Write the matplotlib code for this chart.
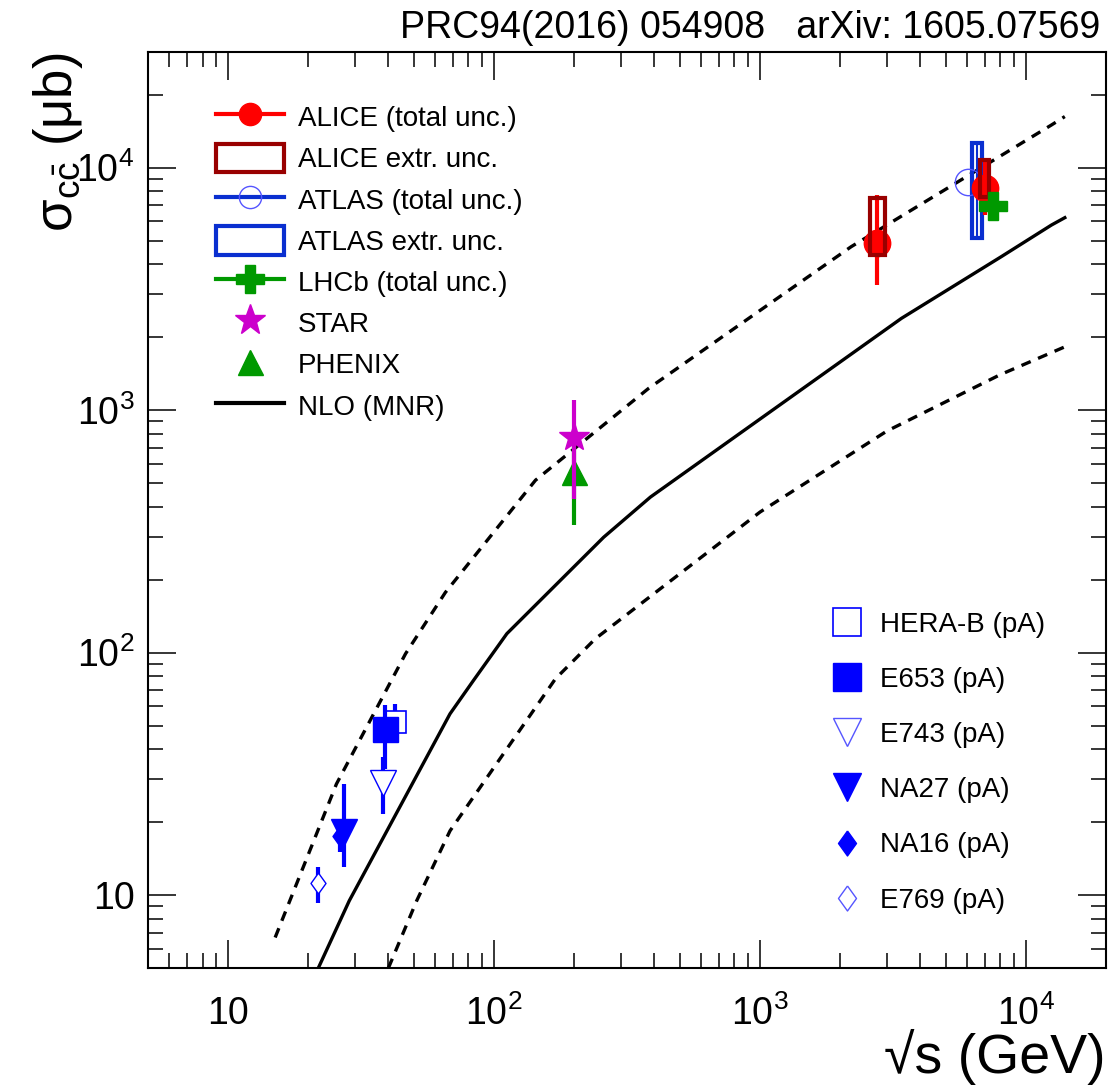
import matplotlib
matplotlib.use('Agg')
import numpy as np
import matplotlib.pyplot as plt
from matplotlib.lines import Line2D
from matplotlib.patches import Rectangle
from matplotlib.ticker import FuncFormatter, NullFormatter, LogLocator

plt.rcParams['font.family'] = ['Liberation Sans', 'DejaVu Sans']
plt.rcParams['mathtext.fontset'] = 'custom'
plt.rcParams['mathtext.rm'] = 'Liberation Sans'
plt.rcParams['mathtext.it'] = 'Liberation Sans:italic'
plt.rcParams['mathtext.default'] = 'regular'

# ---- NLO (MNR) band: central value and upper / lower limits (sqrt(s) in GeV, sigma in ub)
nlo_x = [21.8, 28.5, 68.2, 83.6, 111.6, 258, 387, 3400, 8090, 12470, 14000]
nlo_mid = [5.0, 9.47, 55.9, 76.8, 119.7, 299, 438, 2390, 4300, 5800, 6220]
nlo_up_x = [15.0, 25.5, 46.4, 65.5, 143, 381, 2200, 12470, 14000]
nlo_up = [6.68, 28.7, 98.9, 177, 514, 1230, 4720, 15000, 16250]
nlo_lo_x = [40.0, 51.1, 68.2, 170, 240, 1000, 3000, 8000, 14000]
nlo_lo = [5.0, 9.47, 18.4, 78, 114, 380, 820, 1400, 1824]

# ---- collider measurements
alice_x = [2760, 7000]
alice_y = [4880, 8220]
alice_lo = [3280, 6380]
alice_hi = [7700, 10760]
alice_ext_lo = [4370, 7590]
alice_ext_hi = [7480, 10760]

atlas_x = [6050]
atlas_y = [8750]
atlas_lo = [5050]
atlas_hi = [12750]
atlas_box_x = [6530]
atlas_ext_lo = [5120]
atlas_ext_hi = [12620]

lhcb_x = [7520]
lhcb_y = [6950]
lhcb_lo = [6100]
lhcb_hi = [7900]

star_x = [199]
star_y = [775]
star_lo = [431]
star_hi = [1099]

phenix_x = [199]
phenix_y = [555]
phenix_lo = [335]
phenix_hi = [760]

# ---- fixed-target pA measurements
herab_x, herab_y, herab_lo, herab_hi = [42.5], [51.6], [44.0], [61.5]
e653_x, e653_y, e653_lo, e653_hi = [38.9], [48.4], [33.2], [60.5]
e743_x, e743_y, e743_lo, e743_hi = [38.3], [29.1], [21.6], [37.0]
na27_x, na27_y, na27_lo, na27_hi = [27.3], [18.2], [13.1], [28.7]
na16_x, na16_y, na16_lo, na16_hi = [26.4], [17.5], [15.0], [20.0]
e769_x, e769_y, e769_lo, e769_hi = [21.8], [11.2], [9.3], [13.1]

RED = '#ff0000'
DARKRED = '#990000'
BLUE = '#0000ff'
ATLAS_BLUE = '#0a2fd0'
LIGHTBLUE = '#5555ff'
GREEN = '#009900'
MAGENTA = '#cc00cc'
DIAMOND = [(0, 1), (0.72, 0), (0, -1), (-0.72, 0), (0, 1)]


def yerr(y, lo, hi):
    y, lo, hi = np.array(y), np.array(lo), np.array(hi)
    return [y - lo, hi - y]


fig = plt.figure(figsize=(11.11, 10.85), dpi=100)
ax = fig.add_axes([148.3 / 1111, 1 - 968 / 1085, 957.7 / 1111, 916 / 1085])
ax.set_xscale('log')
ax.set_yscale('log')
ax.set_xlim(5, 2e4)
ax.set_ylim(5, 3e4)

# theory curves
ax.plot(nlo_x, nlo_mid, color='black', lw=2.4, zorder=2)
ax.plot(nlo_up_x, nlo_up, color='black', lw=2.4, dashes=(3.0, 2.4), zorder=2)
ax.plot(nlo_lo_x, nlo_lo, color='black', lw=2.4, dashes=(3.0, 2.4), zorder=2)

# ATLAS
for bx, lo, hi in zip(atlas_box_x, atlas_ext_lo, atlas_ext_hi):
    ax.add_patch(Rectangle((bx / 1.045, lo), bx * 1.045 - bx / 1.045, hi - lo,
                           fill=False, ec=ATLAS_BLUE, lw=3, zorder=3))
ax.errorbar(atlas_box_x, atlas_y, yerr=yerr(atlas_y, atlas_lo, atlas_hi), fmt='none',
            ecolor=ATLAS_BLUE, elinewidth=1.5, capsize=0, zorder=3)
ax.plot(atlas_x, atlas_y, 'o', ms=19, mfc='none', mec=LIGHTBLUE, mew=1, zorder=3)

# ALICE
ax.errorbar(alice_x, alice_y, yerr=yerr(alice_y, alice_lo, alice_hi), fmt='o', color=RED,
            ms=19, elinewidth=3, capsize=0, zorder=4)
for bx, lo, hi, f in zip(alice_x, alice_ext_lo, alice_ext_hi, [1.07, 1.038]):
    ax.add_patch(Rectangle((bx / f, lo), bx * f - bx / f, hi - lo,
                           fill=False, ec=DARKRED, lw=3, zorder=5))

# LHCb
ax.errorbar(lhcb_x, lhcb_y, yerr=yerr(lhcb_y, lhcb_lo, lhcb_hi), fmt='P', color=GREEN,
            ms=20, elinewidth=3, capsize=0, zorder=6)

# RHIC
ax.errorbar(phenix_x, phenix_y, yerr=yerr(phenix_y, phenix_lo, phenix_hi), fmt='^',
            color=GREEN, ms=18, elinewidth=3, capsize=0, zorder=4)
ax.errorbar(star_x, star_y, yerr=yerr(star_y, star_lo, star_hi), fmt='*',
            color=MAGENTA, ms=22, elinewidth=3, capsize=0, zorder=5)

# fixed target
ax.errorbar(herab_x, herab_y, yerr=yerr(herab_y, herab_lo, herab_hi), fmt='s', ms=16,
            mfc='white', mec=BLUE, mew=1.2, ecolor=BLUE, elinewidth=3, capsize=0, zorder=3)
ax.errorbar(e653_x, e653_y, yerr=yerr(e653_y, e653_lo, e653_hi), fmt='s', ms=18,
            color=BLUE, elinewidth=3, capsize=0, zorder=4)
ax.errorbar(e743_x, e743_y, yerr=yerr(e743_y, e743_lo, e743_hi), fmt='v', ms=19,
            mfc='white', mec=BLUE, mew=1.0, ecolor=BLUE, elinewidth=3, capsize=0, zorder=4)
ax.errorbar(na16_x, na16_y, yerr=yerr(na16_y, na16_lo, na16_hi), fmt='none',
            ecolor=BLUE, elinewidth=3, capsize=0, zorder=3)
ax.plot(na16_x, na16_y, ls='none', marker=DIAMOND, ms=15, color=BLUE, zorder=3)
ax.errorbar(na27_x, na27_y, yerr=yerr(na27_y, na27_lo, na27_hi), fmt='v', ms=19,
            color=BLUE, elinewidth=3, capsize=0, zorder=4)
ax.errorbar(e769_x, e769_y, yerr=yerr(e769_y, e769_lo, e769_hi), fmt='none',
            ecolor=BLUE, elinewidth=3, capsize=0, zorder=4)
ax.plot(e769_x, e769_y, ls='none', marker=DIAMOND, ms=15, mfc='white', mec=BLUE,
        mew=1.0, zorder=4)

# axes style
def decade(v, pos):
    e = int(round(np.log10(v)))
    return '10' if e == 1 else r'$10^{%d}$' % e

for axis in (ax.xaxis, ax.yaxis):
    axis.set_major_locator(LogLocator(base=10, numticks=10))
    axis.set_minor_locator(LogLocator(base=10, subs=np.arange(2, 10), numticks=20))
    axis.set_major_formatter(FuncFormatter(decade))
    axis.set_minor_formatter(NullFormatter())

ax.tick_params(which='both', direction='in', top=True, right=True, width=1.1)
ax.tick_params(which='major', length=20, labelsize=27)
ax.tick_params(which='minor', length=11)
ax.tick_params(axis='x', pad=20)
ax.tick_params(axis='y', pad=10)
for s in ax.spines.values():
    s.set_linewidth(1.5)

ax.set_xlabel('\u221as (GeV)', fontsize=40, loc='right')
ax.xaxis.set_label_coords(1.0, (968 - 1073) / 916)
ax.xaxis.label.set_va('baseline')
ax.set_ylabel(r'$\sigma_{c\bar{c}}$ ($\mu$b)', fontsize=38, loc='top', labelpad=-6)

fig.text(1100 / 1111, 1 - 28 / 1085, 'PRC94(2016) 054908   arXiv: 1605.07569',
         fontsize=27, ha='right', va='center')

# legends
h1 = [
    Line2D([], [], color=RED, lw=3, marker='o', ms=16),
    Rectangle((0, 0), 1, 1, fill=False, ec=DARKRED, lw=3),
    Line2D([], [], color=ATLAS_BLUE, lw=3, marker='o', ms=16, mfc='none', mec=LIGHTBLUE, mew=1),
    Rectangle((0, 0), 1, 1, fill=False, ec=ATLAS_BLUE, lw=3),
    Line2D([], [], color=GREEN, lw=3, marker='P', ms=20),
    Line2D([], [], ls='none', color=MAGENTA, marker='*', ms=23),
    Line2D([], [], ls='none', color=GREEN, marker='^', ms=18),
    Line2D([], [], color='black', lw=3),
]
l1 = ['ALICE (total unc.)', 'ALICE extr. unc.', 'ATLAS (total unc.)', 'ATLAS extr. unc.',
      'LHCb (total unc.)', 'STAR', 'PHENIX', 'NLO (MNR)']
leg1 = ax.legend(h1, l1, loc='upper left', bbox_to_anchor=(0.0704, 0.9447), frameon=False,
                 fontsize=20, borderpad=0, borderaxespad=0, handlelength=2.46,
                 handleheight=1.19, handletextpad=0.51, labelspacing=0.42)
ax.add_artist(leg1)

h2 = [
    Line2D([], [], ls='none', marker='s', ms=20, mfc='white', mec=BLUE, mew=1.2),
    Line2D([], [], ls='none', marker='s', ms=20, color=BLUE),
    Line2D([], [], ls='none', marker='v', ms=20, mfc='white', mec=LIGHTBLUE, mew=1.0),
    Line2D([], [], ls='none', marker='v', ms=20, color=BLUE),
    Line2D([], [], ls='none', marker=DIAMOND, ms=18, color=BLUE),
    Line2D([], [], ls='none', marker=DIAMOND, ms=18, mfc='white', mec=LIGHTBLUE, mew=1.0),
]
l2 = ['HERA-B (pA)', 'E653 (pA)', 'E743 (pA)', 'NA27 (pA)', 'NA16 (pA)', 'E769 (pA)']
ax.legend(h2, l2, loc='upper left', bbox_to_anchor=(0.7147, 0.389), frameon=False,
          fontsize=20, borderpad=0, borderaxespad=0, handlelength=1.0,
          handletextpad=0.70, labelspacing=1.05)

fig.savefig('out.png', dpi=100)
